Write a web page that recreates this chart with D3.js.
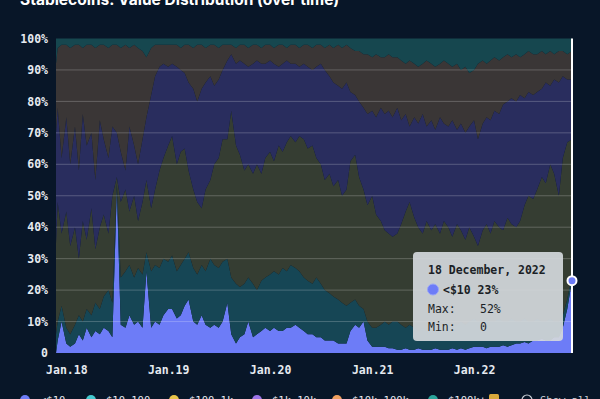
<!DOCTYPE html>
<html>
<head>
<meta charset="utf-8">
<script src="https://cdn.jsdelivr.net/npm/d3@7"></script>
<style>
  html, body { margin: 0; padding: 0; background: #081628; overflow: hidden; }
  svg { display: block; }
</style>
</head>
<body>
<svg id="chart"></svg>
<script>
// half-monthly samples, Nov 2017 -> Dec 2022
const dates = [
  "2017-11-25", "2017-12-01", "2017-12-15",
  "2018-01-01", "2018-01-15", "2018-02-01", "2018-02-15", "2018-03-01", "2018-03-15", "2018-04-01", "2018-04-15",
  "2018-05-01", "2018-05-15", "2018-06-01", "2018-06-15", "2018-07-01", "2018-07-15", "2018-08-01", "2018-08-15",
  "2018-09-01", "2018-09-15", "2018-10-01", "2018-10-15", "2018-11-01", "2018-11-15", "2018-12-01", "2018-12-15",
  "2019-01-01", "2019-01-15", "2019-02-01", "2019-02-15", "2019-03-01", "2019-03-15", "2019-04-01", "2019-04-15",
  "2019-05-01", "2019-05-15", "2019-06-01", "2019-06-15", "2019-07-01", "2019-07-15", "2019-08-01", "2019-08-15",
  "2019-09-01", "2019-09-15", "2019-10-01", "2019-10-15", "2019-11-01", "2019-11-15", "2019-12-01", "2019-12-15",
  "2020-01-01", "2020-01-15", "2020-02-01", "2020-02-15", "2020-03-01", "2020-03-15", "2020-04-01", "2020-04-15",
  "2020-05-01", "2020-05-15", "2020-06-01", "2020-06-15", "2020-07-01", "2020-07-15", "2020-08-01", "2020-08-15",
  "2020-09-01", "2020-09-15", "2020-10-01", "2020-10-15", "2020-11-01", "2020-11-15", "2020-12-01", "2020-12-15",
  "2021-01-01", "2021-01-15", "2021-02-01", "2021-02-15", "2021-03-01", "2021-03-15", "2021-04-01", "2021-04-15",
  "2021-05-01", "2021-05-15", "2021-06-01", "2021-06-15", "2021-07-01", "2021-07-15", "2021-08-01", "2021-08-15",
  "2021-09-01", "2021-09-15", "2021-10-01", "2021-10-15", "2021-11-01", "2021-11-15", "2021-12-01", "2021-12-15",
  "2022-01-01", "2022-01-15", "2022-02-01", "2022-02-15", "2022-03-01", "2022-03-15", "2022-04-01", "2022-04-15",
  "2022-05-01", "2022-05-15", "2022-06-01", "2022-06-15", "2022-07-01", "2022-07-15", "2022-08-01", "2022-08-15",
  "2022-09-01", "2022-09-15", "2022-10-01", "2022-10-15", "2022-11-01", "2022-11-15", "2022-12-01", "2022-12-18"
];

// share of supply (%) per holder size
const under10 = [
  0, 4, 10, 3, 2, 3, 6, 4, 8, 5, 7, 6, 8, 7, 5,
  52, 9, 8, 12, 9, 10, 8, 26, 8, 10, 9, 12, 14, 14,
  11, 12, 15, 17, 10, 9, 12, 9, 8, 9, 8, 10, 16, 6,
  3, 5, 6, 10, 5, 6, 7, 8, 7, 8, 7, 7, 8, 8,
  9, 8, 7, 6, 6, 5, 5, 4, 4, 4, 3, 3, 3, 7,
  9, 8, 10, 4, 2, 2, 2, 2, 1.5, 1.5, 1, 1, 1.5, 1,
  1, 1.5, 1, 1, 1, 1.5, 1, 1, 1, 1.5, 1, 1.5, 1, 1.5,
  2, 2, 2, 1.5, 2, 2, 2, 2.5, 2, 2.5, 3, 3, 3.5, 3,
  4, 4, 4.5, 4, 4, 5, 5, 8, 14, 23
];
const from10to100 = [
  6, 6, 5, 5, 4, 6, 6, 6, 6, 7, 9, 8, 10, 13, 11,
  2, 15, 18, 16, 15, 17, 17, 6, 18, 18, 18, 18, 15, 17,
  15, 16, 15, 15, 17, 16, 16, 17, 22, 19, 19, 19, 14, 18,
  19, 16, 16, 14, 17, 14, 16, 16, 18, 18, 18, 20, 18, 20,
  18, 18, 17, 17, 16, 19, 17, 16, 15, 14, 14, 13, 12, 9,
  8, 7, 4, 6, 6, 6, 7, 8, 7.5, 8.5, 9, 8, 6.5, 8,
  7, 5.5, 7, 6, 7, 7.5, 7, 7, 8, 6.5, 8, 8.5, 8, 8.5,
  9, 8, 8, 9.5, 8, 8, 9, 7.5, 8, 8.5, 7, 7, 7.5, 7,
  6, 7, 5.5, 6, 7, 5, 5, 4, 3, 2
];
const from100to1k = [
  29, 38, 23, 37, 28, 31, 18, 32, 22, 34, 17, 26, 26, 18, 34,
  2, 24, 26, 17, 26, 15, 23, 23, 20, 24, 31, 32, 37, 38,
  34, 36, 35, 26, 25, 23, 18, 26, 25, 32, 35, 39, 38, 53,
  44, 42, 36, 36, 35, 40, 34, 38, 39, 35, 41, 37, 41, 41,
  40, 43, 44, 42, 44, 38, 38, 35, 38, 35, 38, 34, 37, 45,
  46, 41, 38, 37, 42, 36, 33, 29, 29, 27, 28, 32, 37, 39,
  35, 33, 30, 35, 31, 32, 30, 34, 31, 29, 32, 29, 27, 30,
  26, 24, 29, 30, 28, 32, 29, 29, 33, 30, 30, 32, 36, 40,
  39, 41, 46, 44, 49, 47, 40, 50, 50, 43
];
const from1kto10k = [
  35, 30, 24, 30, 26, 32, 28, 34, 30, 24, 22, 34, 24, 24, 22,
  14, 16, 6, 27, 16, 18, 20, 20, 36, 36, 33, 30, 25, 23,
  31, 26, 24, 28, 32, 32, 38, 34, 33, 25, 25, 22, 25, 18,
  26, 30, 34, 31, 35, 33, 35, 30, 29, 31, 25, 28, 26, 23,
  25, 22, 24, 26, 24, 29, 32, 35, 31, 33, 30, 34, 34, 22,
  19, 24, 26, 29, 27, 31, 36, 37, 39, 38, 40, 33, 31, 24,
  32, 33, 38, 30, 35, 30, 37, 31, 32, 37, 30, 34, 34, 32,
  37, 34, 34, 34, 36, 35, 36, 40, 37, 40, 40, 40, 34, 33,
  33, 31, 28, 32, 25, 30, 36, 26, 20, 19
];
const from10kto100k = [
  22, 19, 36, 23, 37, 26, 40, 21, 32, 28, 42, 24, 30, 35, 26,
  28, 33, 40, 25, 32, 37, 28, 19, 15, 10, 7, 6, 7, 6,
  7, 7, 9, 12, 13, 18, 14, 11, 10, 13, 10, 8, 5, 3,
  5, 5, 6, 6, 6, 5, 5, 6, 5, 5, 7, 6, 4, 6,
  6, 6, 6, 7, 7, 7, 6, 7, 10, 11, 13, 13, 12, 14,
  14, 16, 17, 19, 17, 20, 16, 18, 18, 19, 16, 19, 16, 21,
  17, 18, 16, 21, 18, 20, 17, 20, 20, 17, 21, 17, 21, 17,
  16, 24, 20, 17, 19, 17, 17, 15, 15, 13, 15, 12, 14, 13,
  13, 12, 12, 9, 11, 8, 10, 8, 8, 9
];
const over100k = [
  8, 3, 2, 2, 3, 2, 2, 3, 2, 2, 3, 2, 2, 3, 2,
  2, 3, 2, 3, 2, 3, 4, 6, 3, 2, 2, 2, 2, 2,
  2, 3, 2, 2, 3, 2, 2, 3, 2, 2, 3, 2, 2, 2,
  3, 2, 2, 3, 2, 2, 3, 2, 2, 3, 2, 2, 3, 2,
  2, 3, 2, 2, 3, 2, 2, 3, 2, 3, 2, 3, 2, 3,
  4, 4, 5, 5, 6, 5, 6, 6, 5, 6, 6, 7, 8, 7,
  8, 9, 8, 7, 8, 9, 8, 7, 8, 9, 8, 10, 9, 11,
  10, 8, 7, 8, 7, 6, 7, 6, 5, 6, 5, 6, 5, 4,
  5, 5, 4, 5, 4, 5, 4, 4, 5, 4
];

const seriesNames = ["<$10", "$10-100", "$100-1k", "$1k-10k", "$10k-100k", "$100k+"];
const seriesValues = [under10, from10to100, from100to1k, from1kto10k, from10kto100k, over100k];
const seriesColors = ["#6d7cf7", "#45c9cf", "#e8c44a", "#9c74e8", "#f0a060", "#2aa49b"];
// faded look of the series that are not hovered
const fadedColors = ["#6d7cf7", "#164655", "#353d32", "#292d5e", "#3a3636", "#16474f"];
const yTicks = [0, 10, 20, 30, 40, 50, 60, 70, 80, 90, 100];

const width = 600;
const height = 399;
const bg = "#081628";
const plotLeft = 56, plotRight = 572, plotTop = 38.5, plotBottom = 353;
const active = 0; // hovered series

const parse = d3.timeParse("%Y-%m-%d");
const rows = dates.map((d, i) => {
  const row = {date: parse(d)};
  seriesNames.forEach((k, j) => row[k] = seriesValues[j][i]);
  return row;
});

const svg = d3.select("#chart")
  .attr("width", width)
  .attr("height", height)
  .style("background", bg);

const x = d3.scaleTime()
  .domain(d3.extent(rows, d => d.date))
  .range([plotLeft, plotRight]);

const y = d3.scaleLinear()
  .domain([0, 100])
  .range([plotBottom, plotTop]);

const stacked = d3.stack().keys(seriesNames)(rows);

const area = d3.area()
  .x(d => x(d.data.date))
  .y0(d => y(d[0]))
  .y1(d => y(d[1]));

// areas, the hovered one in full colour
svg.append("g")
  .selectAll("path")
  .data(stacked)
  .enter().append("path")
  .attr("d", area)
  .attr("fill", (d, i) => i === active ? seriesColors[i] : fadedColors[i]);

// grid lines on top of areas
svg.append("g")
  .selectAll("line")
  .data(yTicks.filter(v => v > 0 && v < 100))
  .enter().append("line")
  .attr("x1", plotLeft)
  .attr("x2", plotRight)
  .attr("y1", d => y(d))
  .attr("y2", d => y(d))
  .attr("stroke", "rgba(255,255,255,0.22)")
  .attr("stroke-width", 1);

const tickFont = "'DejaVu Sans Mono', monospace";

const yAxis = svg.append("g")
  .attr("transform", `translate(${plotLeft},0)`)
  .call(d3.axisLeft(y).tickValues(yTicks).tickSize(0).tickPadding(8)
    .tickFormat(d => d === 0 ? "0" : d + "%"));
yAxis.select(".domain").remove();
yAxis.selectAll("text")
  .attr("fill", "#e6eaf0")
  .style("font-family", tickFont)
  .style("font-size", "11.5px")
  .style("font-weight", "bold");

const xAxis = svg.append("g")
  .attr("transform", `translate(0,${plotBottom})`)
  .call(d3.axisBottom(x).ticks(d3.timeYear.every(1)).tickSize(0).tickPadding(13)
    .tickFormat(d3.timeFormat("Jan.%y")));
xAxis.select(".domain").remove();
xAxis.selectAll("text")
  .attr("fill", "#e6eaf0")
  .style("font-family", tickFont)
  .style("font-size", "11.5px")
  .style("font-weight", "bold");

// hover marker on the last day
const last = rows[rows.length - 1];
const lastTop = stacked[active][rows.length - 1][1];

svg.append("line")
  .attr("x1", x(last.date))
  .attr("x2", x(last.date))
  .attr("y1", plotTop)
  .attr("y2", plotBottom)
  .attr("stroke", "#ffffff")
  .attr("stroke-width", 2);

svg.append("circle")
  .attr("cx", x(last.date))
  .attr("cy", y(lastTop))
  .attr("r", 4.5)
  .attr("fill", seriesColors[active])
  .attr("stroke", "#ffffff")
  .attr("stroke-width", 2);

// tooltip
const tip = svg.append("g").attr("transform", "translate(413,252)");
tip.append("rect")
  .attr("width", 150)
  .attr("height", 89)
  .attr("rx", 4)
  .attr("fill", "#d3d7db")
  .attr("fill-opacity", 0.93);

const tipStyle = sel => sel
  .attr("fill", "#1b1f26")
  .style("font-family", tickFont)
  .style("font-size", "11.5px");

tip.append("text")
  .attr("x", 15).attr("y", 22)
  .call(tipStyle)
  .style("font-weight", "bold")
  .text(d3.timeFormat("%-d %B, %Y")(last.date));

tip.append("circle")
  .attr("cx", 20).attr("cy", 37.5)
  .attr("r", 5.5)
  .attr("fill", seriesColors[active])
  .attr("stroke", "#9aa6f7")
  .attr("stroke-width", 1);

tip.append("text")
  .attr("x", 30).attr("y", 42)
  .call(tipStyle)
  .style("font-weight", "bold")
  .text(seriesNames[active] + " " + Math.round(last[seriesNames[active]]) + "%");

tip.append("text")
  .attr("x", 15).attr("y", 61)
  .call(tipStyle)
  .text("Max:");
tip.append("text")
  .attr("x", 67).attr("y", 61)
  .call(tipStyle)
  .text(d3.max(seriesValues[active]) + "%");

tip.append("text")
  .attr("x", 15).attr("y", 79)
  .call(tipStyle)
  .text("Min:");
tip.append("text")
  .attr("x", 67).attr("y", 79)
  .call(tipStyle)
  .text(d3.min(seriesValues[active]));

// legend, runs past the bottom edge like the original
const legendX = [25, 91, 174, 257, 337, 433];
const legend = svg.append("g")
  .selectAll("g")
  .data(seriesNames)
  .enter().append("g")
  .attr("transform", (d, i) => `translate(${legendX[i]},400)`);
legend.append("circle")
  .attr("r", 5)
  .attr("fill", (d, i) => seriesColors[i]);
legend.append("text")
  .attr("x", 15)
  .attr("y", 4)
  .attr("fill", "#e6eaf0")
  .style("font-family", tickFont)
  .style("font-size", "10.5px")
  .text(d => d);

svg.append("rect")
  .attr("x", 489).attr("y", 394)
  .attr("width", 10).attr("height", 9)
  .attr("rx", 1.5)
  .attr("fill", "#d9a93c");
svg.append("circle")
  .attr("cx", 527).attr("cy", 400)
  .attr("r", 5)
  .attr("fill", "none")
  .attr("stroke", "#c9ced6")
  .attr("stroke-width", 1.2);
svg.append("text")
  .attr("x", 540).attr("y", 404)
  .attr("fill", "#c9ced6")
  .style("font-family", tickFont)
  .style("font-size", "10.5px")
  .text("Show all");

// title, clipped by the top of the frame
svg.append("text")
  .attr("x", 20)
  .attr("y", 5)
  .attr("fill", "#ffffff")
  .style("font-family", "Inter, 'DejaVu Sans', sans-serif")
  .style("font-size", "15.5px")
  .style("font-weight", "bold")
  .text("Stablecoins: Value Distribution (over time)");
</script>
</body>
</html>
